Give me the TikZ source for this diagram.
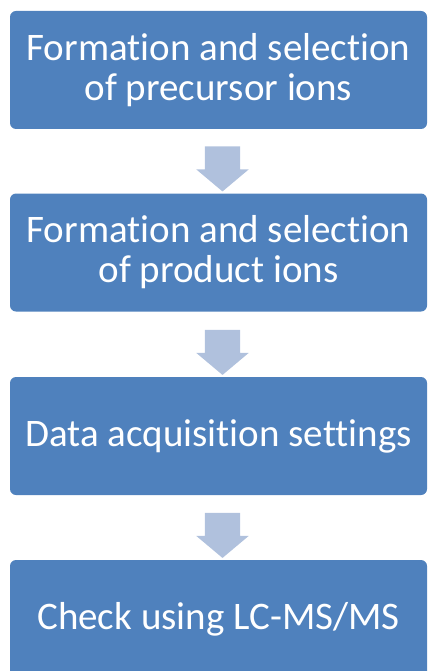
\documentclass[tikz,border=0pt]{standalone}
\usepackage{fontspec}
\setmainfont{Carlito}[RawFeature={-liga;-clig;-calt;-dlig;-rlig}]
\usetikzlibrary{shapes.arrows}

\definecolor{stepblue}{HTML}{4F81BD}
\definecolor{arrowblue}{HTML}{B0C1DD}

\tikzset{
  stepbox/.style={fill=stepblue, rounded corners=6pt, minimum width=417pt,
    minimum height=118pt, text=white, align=center, inner sep=0pt,
    font=\fontsize{39}{40}\selectfont},
  downarrow/.style={single arrow, fill=arrowblue, rotate=-90, inner xsep=0pt,
    inner ysep=17.5pt, minimum height=45pt, minimum width=52pt,
    single arrow head extend=8.5pt, single arrow tip angle=100}
}

\begin{document}
\begin{tikzpicture}[x=1pt,y=-1pt]
    \useasboundingbox (0,0) rectangle (428,671);

    % steps
    \node[stepbox] (s1) at (218.5,70)  {Formation and selection\\of precursor ions};
    \node[stepbox] (s2) at (218.5,252.5) {Formation and selection\\of product ions};
    \node[stepbox] (s3) at (218.5,436) {Data acquisition settings};
    \node[stepbox] (s4) at (218.5,619) {Check using LC-MS/MS};

    % arrows
    \node[downarrow] (a1) at (222.5,161.5) {};
    \node[downarrow] (a2) at (222.5,345)   {};
    \node[downarrow] (a3) at (222.5,528)   {};
\end{tikzpicture}
\end{document}
